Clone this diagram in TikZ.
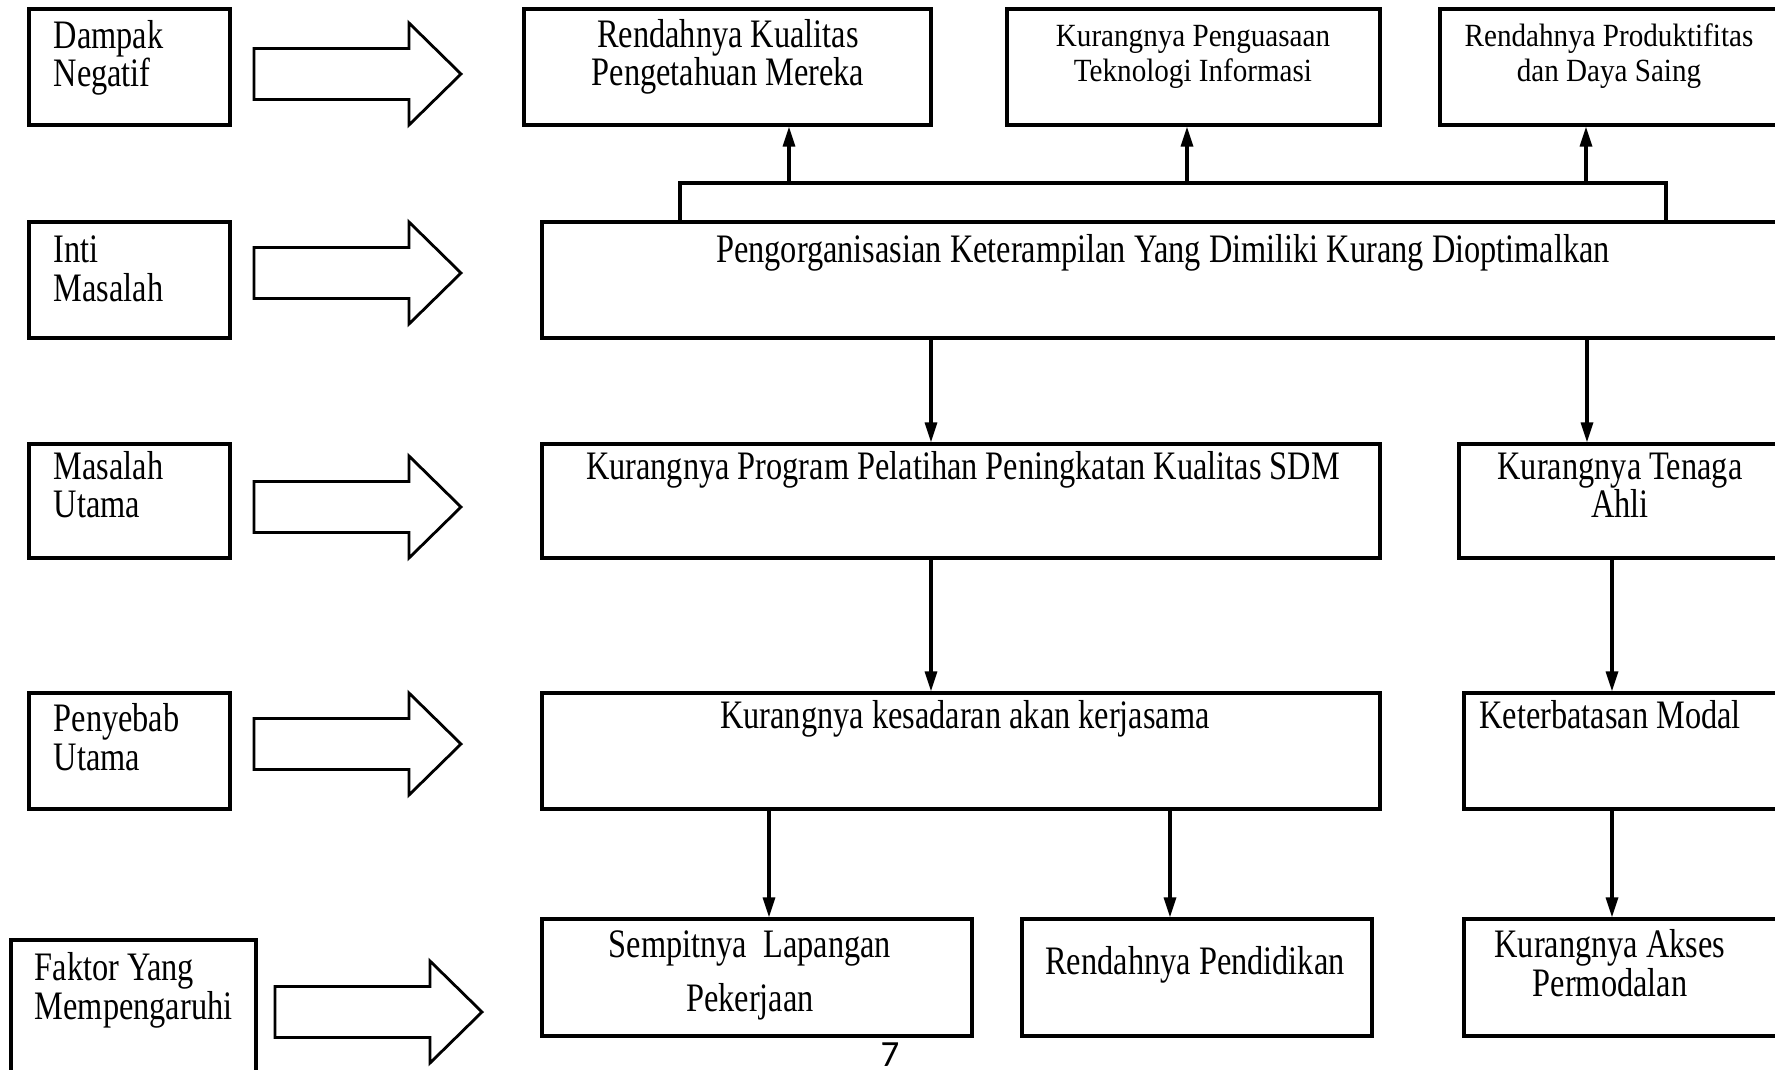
\documentclass[tikz,border=0pt]{standalone}
\usepackage{fontspec}
\setmainfont[FakeStretch=0.8]{Liberation Serif}
\newfontfamily\smallfont[FakeStretch=0.9]{Liberation Serif}
\newfontfamily\pagenumfont{Carlito}
\usetikzlibrary{arrows.meta,fit}

\begin{document}
\begin{tikzpicture}[x=0.01cm,y=-0.01cm,box/.style={draw, line width=0.9pt, inner sep=0pt},txt/.style={anchor=base, inner sep=0pt, align=center, font=\fontsize{11.5}{11}\selectfont},lefttxt/.style={txt, align=left, anchor=base west},small/.style={txt, font=\smallfont\fontsize{9.2}{10.2}\selectfont},conn/.style={line width=0.9pt, -{Triangle[length=2mm,width=1.2mm]}},fatarrow/.pic={\draw[line width=0.8pt, line join=miter] (0,-25.5) -- (155,-25.5) -- (155,-51) -- (207,0) -- (155,51) -- (155,25.5) -- (0,25.5) -- cycle;}]
\useasboundingbox (0,0) rectangle (1775,1070);
\clip (0,0) rectangle (1775,1070);

\node[box, fit={(29,9) (230,125)}] (dampak) {};
\node[lefttxt] (tdampak) at (53,87) {Dampak\\Negatif};
\node[box, fit={(29,222) (230,338)}] (inti) {};
\node[lefttxt] (tinti) at (53,301) {Inti\\Masalah};
\node[box, fit={(29,444) (230,558)}] (utama) {};
\node[lefttxt] (tutama) at (53,518) {Masalah\\Utama};
\node[box, fit={(29,693) (230,809)}] (sebab) {};
\node[lefttxt] (tsebab) at (53,770) {Penyebab\\Utama};
\node[box, fit={(11,940) (256,1085)}] (faktor) {};
\node[lefttxt] (tfaktor) at (34,1019) {Faktor Yang\\Mempengaruhi};

\pic (ar1) at (254,74) {fatarrow};
\pic (ar2) at (254,273) {fatarrow};
\pic (ar3) at (254,507) {fatarrow};
\pic (ar4) at (254,744) {fatarrow};
\pic (ar5) at (275,1012) {fatarrow};

\node[box, fit={(524,9) (931,125)}] (kualitas) {};
\node[txt] (tkualitas) at (728,86) {Rendahnya Kualitas\\Pengetahuan Mereka};
\node[box, fit={(1007,9) (1380,125)}] (teknologi) {};
\node[small] (tteknologi) at (1193,82) {Kurangnya Penguasaan\\Teknologi Informasi};
\node[box, fit={(1440,9) (1780,125)}] (produktif) {};
\node[small] (tproduktif) at (1609,82) {Rendahnya Produktifitas\\dan Daya Saing};

\node[box, fit={(542,222) (1780,338)}] (core) {};
\node[txt] (tcore) at (1163,263) {Pengorganisasian Keterampilan Yang Dimiliki Kurang Dioptimalkan};

\node[box, fit={(542,444) (1380,558)}] (pelatihan) {};
\node[txt] (tpelatihan) at (963,479) {Kurangnya Program Pelatihan Peningkatan Kualitas SDM};
\node[box, fit={(1459,444) (1780,558)}] (ahli) {};
\node[txt] (tahli) at (1620,518) {Kurangnya Tenaga\\Ahli};

\node[box, fit={(542,693) (1380,809)}] (sadar) {};
\node[txt] (tsadar) at (965,728) {Kurangnya kesadaran akan kerjasama};
\node[box, fit={(1464,693) (1780,809)}] (modal) {};
\node[txt] (tmodal) at (1610,728) {Keterbatasan Modal};

\node[box, fit={(542,919) (972,1036)}] (sempit) {};
\node[txt, font=\fontsize{11.5}{15.3}\selectfont] (tsempit) at (750,1011) {Sempitnya\ \ Lapangan\\Pekerjaan};
\node[box, fit={(1022,919) (1372,1036)}] (didik) {};
\node[txt] (tdidik) at (1195,974) {Rendahnya Pendidikan};
\node[box, fit={(1464,919) (1780,1036)}] (akses) {};
\node[txt] (takses) at (1610,996) {Kurangnya Akses\\Permodalan};

\node[anchor=base, inner sep=0pt, font=\pagenumfont\fontsize{10.5}{12}\selectfont] (page) at (890,1066) {7};

\draw[line width=0.9pt] (core.north -| 680,0) |- (1666,183) -- (core.north -| 1666,0);
\coordinate (lid1) at (789,183);
\coordinate (lid2) at (1187,183);
\coordinate (lid3) at (1586,183);
\draw[conn] (lid1) -- (lid1 |- kualitas.south);
\draw[conn] (lid2) -- (lid2 |- teknologi.south);
\draw[conn] (lid3) -- (lid3 |- produktif.south);

\draw[conn] (core.south -| 931,0) -- (pelatihan.north -| 931,0);
\draw[conn] (core.south -| 1587,0) -- (ahli.north -| 1587,0);
\draw[conn] (pelatihan.south -| 931,0) -- (sadar.north -| 931,0);
\draw[conn] (ahli.south -| 1612,0) -- (modal.north -| 1612,0);
\draw[conn] (sadar.south -| 769,0) -- (sempit.north -| 769,0);
\draw[conn] (sadar.south -| 1170,0) -- (didik.north -| 1170,0);
\draw[conn] (modal.south -| 1612,0) -- (akses.north -| 1612,0);
\end{tikzpicture}
\end{document}
